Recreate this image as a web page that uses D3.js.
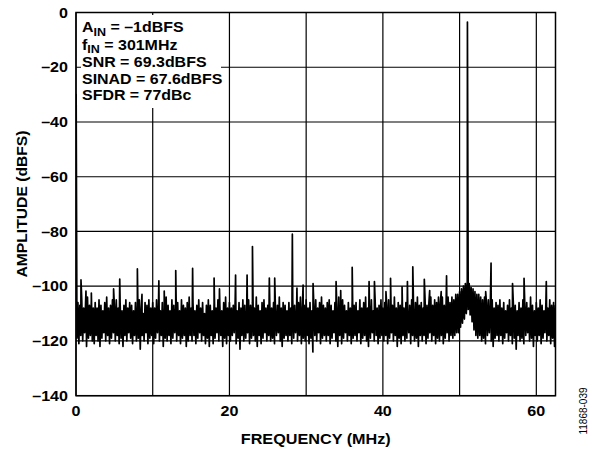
<!DOCTYPE html>
<html><head><meta charset="utf-8">
<script src="https://cdn.jsdelivr.net/npm/d3@7"></script>
<style>
html,body{margin:0;padding:0;background:#fff;}
text{font-family:"Liberation Sans",Arial,Helvetica,sans-serif;}
</style></head>
<body><svg id="c" width="598" height="451"></svg>
<script>
// ---- data ----
// noise floor envelope, one value per 0.25 MHz bin (0 .. 62.5 MHz)
const noiseHi = [
-104,-106,-107,-105,-108,-106,-104,-107,-105,-108,
-106,-108,-105,-107,-109,-106,-104,-108,-107,-105,
-107,-105,-108,-106,-109,-107,-105,-108,-106,-107,
-109,-106,-107,-105,-108,-110,-106,-107,-105,-108,
-106,-108,-105,-107,-109,-106,-108,-104,-107,-109,
-105,-107,-108,-106,-109,-105,-107,-108,-106,-104,
-108,-106,-109,-107,-105,-108,-106,-110,-107,-105,
-107,-109,-106,-108,-105,-107,-109,-106,-104,-108,
-106,-108,-107,-105,-109,-106,-108,-105,-107,-109,
-105,-107,-106,-108,-104,-107,-109,-106,-105,-108,
-107,-105,-108,-106,-109,-107,-104,-108,-106,-107,
-109,-106,-108,-105,-107,-109,-106,-104,-108,-107,
-105,-108,-106,-109,-107,-105,-108,-106,-104,-107,
-108,-106,-105,-107,-109,-106,-108,-104,-107,-105,
-107,-109,-106,-108,-105,-107,-106,-109,-105,-108,
-106,-104,-108,-107,-105,-109,-106,-108,-107,-105,
-108,-106,-107,-105,-109,-107,-104,-108,-106,-107,
-105,-108,-106,-109,-107,-105,-108,-106,-104,-107,
-106,-108,-105,-107,-106,-104,-107,-105,-106,-104,
-106,-104,-107,-105,-104,-106,-104,-105,-103,-103,
-102,-101,-100,-99,-98,-99,-100.5,-101,-102,-103,
-103,-104,-105,-104,-106,-105,-107,-105,-108,-106,
-107,-105,-108,-106,-109,-107,-105,-108,-106,-107,
-109,-106,-108,-105,-107,-106,-108,-104,-107,-109,
-106,-108,-105,-107,-109,-106,-108,-105,-107,-106,
-107
];
const noiseLo = [
-119,-121,-118,-120,-117,-122,-119,-118,-120,-121,
-118,-120,-122,-119,-117,-120,-118,-121,-119,-117,
-120,-118,-121,-119,-122,-118,-120,-117,-119,-121,
-118,-120,-119,-123,-118,-120,-117,-121,-119,-118,
-121,-119,-117,-120,-118,-122,-119,-120,-118,-121,
-119,-117,-120,-118,-121,-119,-118,-122,-120,-118,
-120,-118,-121,-119,-117,-120,-118,-121,-119,-122,
-118,-121,-119,-117,-120,-118,-122,-119,-121,-118,
-120,-118,-117,-121,-119,-123,-118,-120,-119,-117,
-121,-119,-118,-120,-122,-118,-121,-119,-117,-120,
-118,-120,-119,-121,-118,-117,-120,-122,-119,-118,
-120,-118,-121,-119,-117,-120,-118,-121,-119,-120,
-118,-121,-119,-124,-118,-120,-117,-121,-119,-118,
-120,-118,-121,-119,-117,-120,-122,-118,-121,-119,
-117,-120,-118,-121,-119,-118,-120,-117,-121,-119,
-118,-120,-122,-119,-117,-120,-118,-121,-119,-118,
-120,-118,-121,-119,-117,-120,-118,-122,-119,-121,
-118,-120,-119,-117,-121,-118,-120,-119,-122,-118,
-120,-118,-121,-119,-117,-120,-118,-121,-119,-120,
-118,-121,-119,-117,-120,-118,-119,-118,-117,-117,
-115,-113.5,-112,-110,-108.5,-110.5,-113,-116,-118,-119,
-118,-120,-119,-121,-118,-117,-120,-122,-119,-118,
-120,-118,-121,-119,-117,-120,-118,-121,-119,-123,
-118,-120,-119,-121,-118,-117,-120,-119,-122,-118,
-120,-118,-121,-119,-117,-120,-118,-121,-119,-122,
-120
];
const binStep = 0.25; // MHz
// spurs and tones (MHz, dBFS)
const spurFreq  = [0.02, 0.65, 1.3, 2.0, 4.9, 5.7, 8.0, 8.6, 10.8, 11.5, 13.0, 15.2, 18.0, 18.7, 20.8, 22.3, 23.0, 25.2, 25.9, 28.2, 28.8, 29.6, 30.9, 33.9, 34.5, 36.0, 38.2, 38.9, 40.4, 41.0, 42.5, 43.2, 43.9, 45.4, 46.1, 47.6, 48.3, 51.02, 53.4, 54.1, 56.9, 58.4, 61.3];
const spurLevel = [-30, -97.7, -101.8, -102.5, -101, -97.4, -93.7, -103, -98, -101.8, -94.3, -93.5, -97, -101, -95.9, -95.9, -85.5, -97, -97, -81, -100.7, -99.6, -99, -98.3, -101.6, -93.1, -98.3, -98.3, -102, -97.1, -100.2, -98.3, -92.9, -97.5, -101.6, -102, -96.2, -3.5, -102, -91.6, -99, -97.1, -98.3];
const xTicks = [0, 20, 40, 60];
const xGrid = [0, 10, 20, 30, 40, 50, 60];
const yTicks = [0, -20, -40, -60, -80, -100, -120, -140];
const xMax = 62.5;
const notes = [
  {a: "A", sub: "IN", rest: " = –1dBFS"},
  {a: "f", sub: "IN", rest: " = 301MHz"},
  {a: "SNR = 69.3dBFS"},
  {a: "SINAD = 67.6dBFS"},
  {a: "SFDR = 77dBc"}
];

// ---- layout ----
const L = 76, R = 555.5, T = 12.5, B = 395.7;
const svg = d3.select("#c");
svg.append("rect").attr("width", 598).attr("height", 451).attr("fill", "#fff");
const x = d3.scaleLinear().domain([0, xMax]).range([L, R]);
const y = d3.scaleLinear().domain([-140, 0]).range([B, T]);

// grid
const g = svg.append("g");
g.selectAll(".vg").data(xGrid).join("line")
  .attr("x1", d => x(d)).attr("x2", d => x(d)).attr("y1", T).attr("y2", B)
  .attr("stroke", "#000").attr("stroke-width", 1.2);
g.selectAll(".hg").data(yTicks).join("line")
  .attr("x1", L).attr("x2", R).attr("y1", d => y(d)).attr("y2", d => y(d))
  .attr("stroke", "#000").attr("stroke-width", 1.2);

// annotation white box
svg.append("rect").attr("x", 81).attr("y", 15).attr("width", 140).attr("height", 93).attr("fill", "#fff");

// trace
const pts = [];
noiseHi.forEach((v, i) => {
  pts.push({f: i * binStep, v: v});
  pts.push({f: i * binStep + binStep / 2, v: noiseLo[i]});
});
spurFreq.forEach((f, i) => pts.push({f: f, v: spurLevel[i]}));
pts.sort((a, b) => a.f - b.f);
svg.append("clipPath").attr("id", "clip").append("rect")
  .attr("x", L).attr("y", T).attr("width", R - L).attr("height", B - T);
svg.append("path").datum(pts)
  .attr("clip-path", "url(#clip)")
  .attr("fill", "none").attr("stroke", "#000").attr("stroke-width", 1.7)
  .attr("stroke-linejoin", "round")
  .attr("d", d3.line().x(d => x(d.f)).y(d => y(d.v)));

// border
svg.append("rect").attr("x", L).attr("y", T).attr("width", R - L).attr("height", B - T)
  .attr("fill", "none").attr("stroke", "#000").attr("stroke-width", 1.5);

// tick labels
const fmt = d => (d < 0 ? "–" + Math.abs(d) : String(d));
svg.selectAll(".yt").data(yTicks).join("text")
  .attr("transform", d => `translate(68,${y(d)}) scale(1.15,1)`).attr("dy", "0.36em")
  .attr("text-anchor", "end").attr("font-size", 14).attr("font-weight", "bold")
  .text(fmt);
svg.selectAll(".xt").data(xTicks).join("text")
  .attr("transform", d => `translate(${x(d)},416) scale(1.15,1)`)
  .attr("text-anchor", "middle").attr("font-size", 14).attr("font-weight", "bold")
  .text(fmt);

// axis titles
svg.append("text").attr("x", (L + R) / 2).attr("y", 444)
  .attr("text-anchor", "middle").attr("font-size", 14).attr("font-weight", "bold")
  .attr("textLength", 150).attr("lengthAdjust", "spacingAndGlyphs")
  .text("FREQUENCY (MHz)");
svg.append("text").attr("transform", "translate(26.5,204) rotate(-90)")
  .attr("text-anchor", "middle").attr("font-size", 14).attr("font-weight", "bold")
  .attr("textLength", 147).attr("lengthAdjust", "spacingAndGlyphs")
  .text("AMPLITUDE (dBFS)");
svg.append("text").attr("transform", "translate(587,411) rotate(-90)")
  .attr("text-anchor", "middle").attr("font-size", 10)
  .text("11868-039");

// annotations
const baselines = [32, 49.5, 67, 83.5, 100];
notes.forEach((n, i) => {
  const t = svg.append("text").attr("transform", `translate(82,${baselines[i]}) scale(1.14,1)`)
    .attr("font-size", 14).attr("font-weight", "bold");
  t.append("tspan").text(n.a);
  if (n.sub) {
    t.append("tspan").attr("font-size", 11).attr("dy", 3.5).text(n.sub);
    t.append("tspan").attr("dy", -3.5).text(n.rest);
  }
});
</script></body></html>
